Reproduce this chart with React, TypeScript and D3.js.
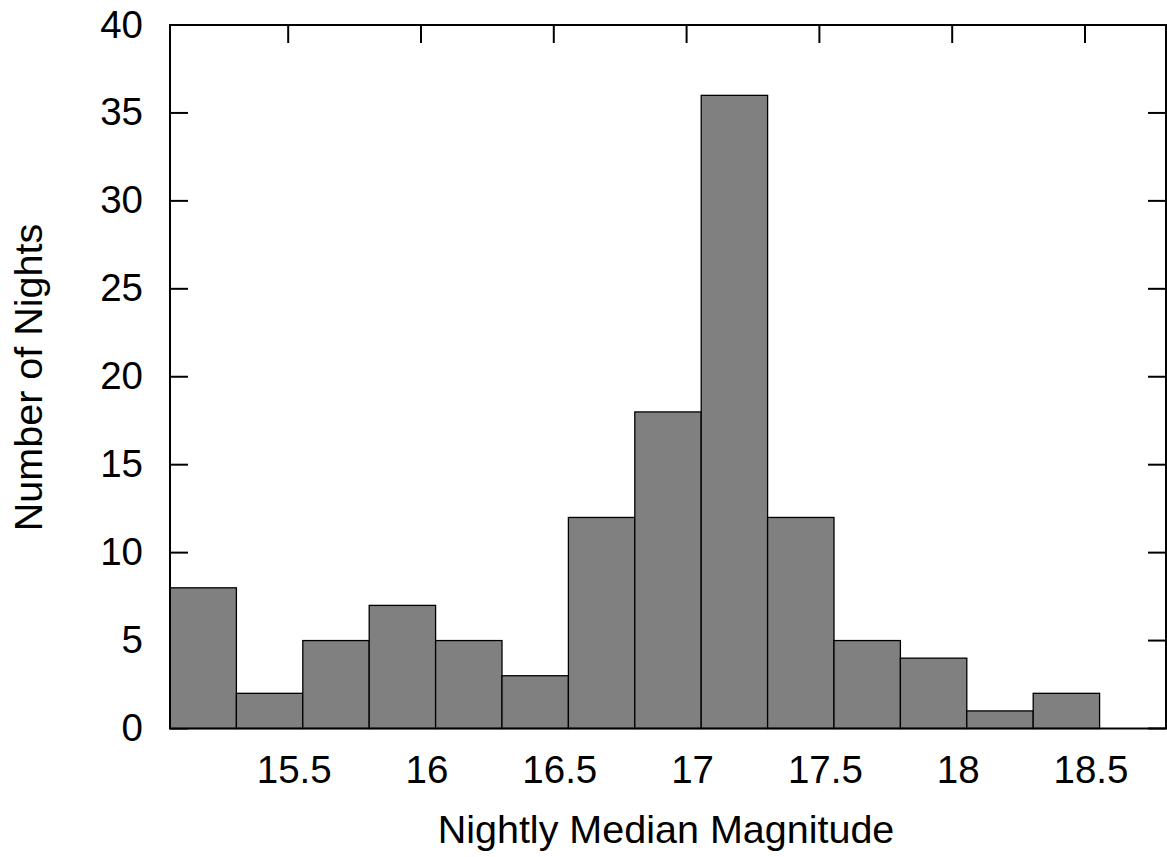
import React from "react";
import * as d3 from "d3";

const binStart = 15.055;
const binWidth = 0.25;
const counts = [8, 2, 5, 7, 5, 3, 12, 18, 36, 12, 5, 4, 1, 2, 0];
const xTicks = [15.5, 16, 16.5, 17, 17.5, 18, 18.5];
const yTicks = [0, 5, 10, 15, 20, 25, 30, 35, 40];
const xLabel = "Nightly Median Magnitude";
const yLabel = "Number of Nights";

const W = 1167;
const H = 857;
const L = 170, R = 1166, T = 25, B = 728.5;
const FONT = "'Liberation Sans', Arial, Helvetica, sans-serif";

export default function App() {
  const x = d3.scaleLinear().domain([binStart, binStart + binWidth * counts.length]).range([L, R]);
  const y = d3.scaleLinear().domain([0, 40]).range([B, T]);
  const bins = counts.map((c, i) => ({ x0: binStart + i * binWidth, x1: binStart + (i + 1) * binWidth, c }));
  const tickLen = 18;
  return (
    <div style={{ position: "absolute", left: 0, top: 0 }}>
      <svg width={W} height={H} style={{ display: "block", background: "#fff" }}>
        <g stroke="#000" strokeWidth={2}>
          {yTicks.map((t) => (
            <g key={"y" + t}>
              <line x1={L} x2={L + tickLen} y1={y(t)} y2={y(t)} />
              <line x1={R - tickLen} x2={R} y1={y(t)} y2={y(t)} />
            </g>
          ))}
          {xTicks.map((t) => (
            <g key={"x" + t}>
              <line x1={x(t)} x2={x(t)} y1={B} y2={B - tickLen} />
              <line x1={x(t)} x2={x(t)} y1={T} y2={T + tickLen} />
            </g>
          ))}
        </g>
        <g>
          {bins.filter((b) => b.c > 0).map((b, i) => (
            <rect
              key={i}
              x={x(b.x0)}
              y={y(b.c)}
              width={x(b.x1) - x(b.x0)}
              height={y(0) - y(b.c)}
              fill="#808080"
              stroke="#000"
              strokeWidth={1.3}
            />
          ))}
        </g>
        <rect x={L} y={T} width={R - L} height={B - T} fill="none" stroke="#000" strokeWidth={2} />
        <g fontFamily={FONT} fontSize={38.5} fill="#000">
          {yTicks.map((t) => (
            <text key={"yl" + t} x={143} y={y(t) + 12.5} textAnchor="end">{t}</text>
          ))}
          {xTicks.map((t) => (
            <text key={"xl" + t} x={x(t) + 6} y={783} textAnchor="middle">{t}</text>
          ))}
        </g>
        <text x={666} y={843} textAnchor="middle" fontFamily={FONT} fontSize={39.5}>{xLabel}</text>
        <text
          transform={`translate(42, 377.5) rotate(-90)`}
          textAnchor="middle"
          fontFamily={FONT}
          fontSize={39.5}
        >
          {yLabel}
        </text>
      </svg>
    </div>
  );
}
